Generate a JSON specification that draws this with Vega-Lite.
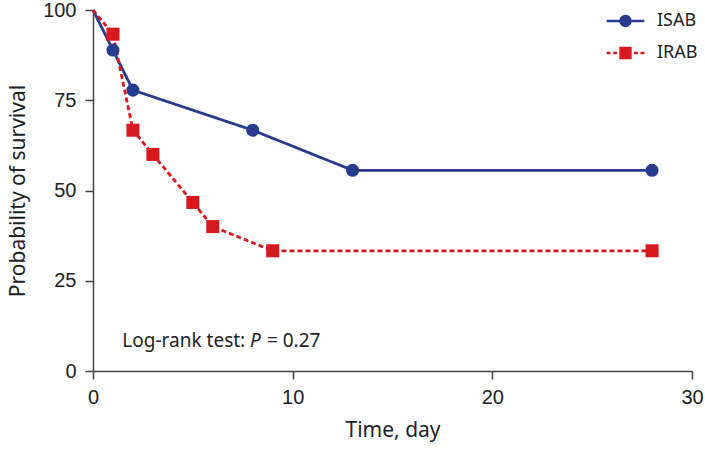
{
  "$schema": "https://vega.github.io/schema/vega-lite/v6.json",
  "width": 599,
  "height": 361,
  "autosize": "none",
  "padding": {"left": 93, "top": 10, "right": 13, "bottom": 78},
  "config": {
    "view": {"stroke": null},
    "font": "Noto Sans",
    "axis": {
      "grid": false,
      "domainColor": "#444444",
      "domainWidth": 1.5,
      "tickColor": "#444444",
      "tickWidth": 1.5,
      "tickSize": 8,
      "labelFontSize": 20,
      "labelColor": "#222222",
      "titleFontSize": 21,
      "titleFontWeight": "normal",
      "titleColor": "#222222",
      "labelFont": "Liberation Sans",
      "titleFont": "Noto Sans"
    },
    "legend": {"padding": 0, "labelFontSize": 18, "labelColor": "#222222", "labelFont": "Noto Sans"}
  },
  "datasets": {
    "surv": [
      {"group": "ISAB", "time": 0, "prob": 100},
      {"group": "ISAB", "time": 1, "prob": 88.9},
      {"group": "ISAB", "time": 2, "prob": 77.8},
      {"group": "ISAB", "time": 8, "prob": 66.7},
      {"group": "ISAB", "time": 13, "prob": 55.6},
      {"group": "ISAB", "time": 28, "prob": 55.6},
      {"group": "IRAB", "time": 0, "prob": 100},
      {"group": "IRAB", "time": 1, "prob": 93.3},
      {"group": "IRAB", "time": 2, "prob": 66.7},
      {"group": "IRAB", "time": 3, "prob": 60},
      {"group": "IRAB", "time": 5, "prob": 46.7},
      {"group": "IRAB", "time": 6, "prob": 40},
      {"group": "IRAB", "time": 9, "prob": 33.3},
      {"group": "IRAB", "time": 28, "prob": 33.3}
    ],
    "notePlain": [
      {"label": "Log-rank test:", "time": 1.47, "prob": 6.7},
      {"label": "= 0.27", "time": 8.71, "prob": 6.7}
    ],
    "noteItalic": [
      {"label": "P", "time": 7.86, "prob": 6.7}
    ]
  },
  "layer": [
    {
      "data": {"name": "surv"},
      "mark": {"type": "line", "strokeWidth": 2.8},
      "encoding": {
        "x": {
          "field": "time", "type": "quantitative",
          "scale": {"domain": [0, 30], "nice": false},
          "axis": {"values": [0, 10, 20, 30], "title": "Time, day", "labelPadding": 8, "titlePadding": 12, "labelFlush": false},
          "title": "Time, day"
        },
        "y": {
          "field": "prob", "type": "quantitative",
          "scale": {"domain": [0, 100], "nice": false},
          "axis": {"values": [0, 25, 50, 75, 100], "title": "Probability of survival", "labelPadding": 9, "titlePadding": 14, "labelFlush": false},
          "title": "Probability of survival"
        },
        "stroke": {
          "field": "group", "type": "nominal",
          "scale": {"domain": ["ISAB", "IRAB"], "range": ["#283a8e", "#d7191f"]},
          "legend": null
        },
        "strokeDash": {
          "field": "group", "type": "nominal",
          "scale": {"domain": ["ISAB", "IRAB"], "range": [[1, 0], [5, 3]]},
          "legend": null
        }
      }
    },
    {
      "data": {"name": "surv"},
      "transform": [{"filter": "datum.time > 0"}],
      "mark": {"type": "point", "filled": true, "opacity": 1, "size": 170},
      "encoding": {
        "x": {"field": "time", "type": "quantitative"},
        "y": {"field": "prob", "type": "quantitative"},
        "fill": {
          "field": "group", "type": "nominal",
          "scale": {"domain": ["ISAB", "IRAB"], "range": ["#283a8e", "#d7191f"]},
          "legend": null
        },
        "shape": {
          "field": "group", "type": "nominal",
          "scale": {"domain": ["ISAB", "IRAB"], "range": ["circle", "square"]},
          "legend": null
        }
      }
    },
    {
      "data": {"name": "surv"},
      "transform": [{"filter": "false"}],
      "mark": {"type": "point", "filled": true, "opacity": 1, "size": 169, "strokeWidth": 0},
      "encoding": {
        "x": {"field": "time", "type": "quantitative"},
        "y": {"field": "prob", "type": "quantitative"},
        "fill": {
          "field": "group", "type": "nominal",
          "scale": {"domain": ["ISAB", "IRAB"], "range": ["#283a8e", "#d7191f"]},
          "legend": {
            "title": null, "orient": "none", "legendX": 523.5, "legendY": 2,
            "symbolSize": 169, "symbolOpacity": 1, "symbolStrokeWidth": 0,
            "labelOffset": 22.5, "rowPadding": 14
          }
        },
        "shape": {
          "field": "group", "type": "nominal",
          "scale": {"domain": ["ISAB", "IRAB"], "range": [
            "M-2.9,-0.2H2.9V0.2H-2.9Z M-0.95,0A0.95,0.95 0 1,1 0.95,0A0.95,0.95 0 1,1 -0.95,0Z",
            "M-2.9,-0.2H-2.3V0.2H-2.9Z M-1.9,-0.2H-1.3V0.2H-1.9Z M-0.95,-0.95H0.95V0.95H-0.95Z M1.3,-0.2H1.9V0.2H1.3Z M2.3,-0.2H2.9V0.2H2.3Z"
          ]},
          "legend": {
            "title": null, "orient": "none", "legendX": 523.5, "legendY": 2,
            "symbolSize": 169, "symbolOpacity": 1, "symbolStrokeWidth": 0,
            "labelOffset": 22.5, "rowPadding": 14
          }
        }
      }
    },
    {
      "data": {"name": "notePlain"},
      "mark": {"type": "text", "align": "left", "baseline": "alphabetic", "fontSize": 19, "font": "Noto Sans", "color": "#222222"},
      "encoding": {
        "x": {"field": "time", "type": "quantitative"},
        "y": {"field": "prob", "type": "quantitative"},
        "text": {"field": "label"}
      }
    },
    {
      "data": {"name": "noteItalic"},
      "mark": {"type": "text", "align": "left", "baseline": "alphabetic", "fontSize": 19, "font": "Noto Sans", "fontStyle": "italic", "color": "#222222"},
      "encoding": {
        "x": {"field": "time", "type": "quantitative"},
        "y": {"field": "prob", "type": "quantitative"},
        "text": {"field": "label"}
      }
    }
  ],
  "resolve": {"scale": {"shape": "independent", "fill": "independent"}}
}
